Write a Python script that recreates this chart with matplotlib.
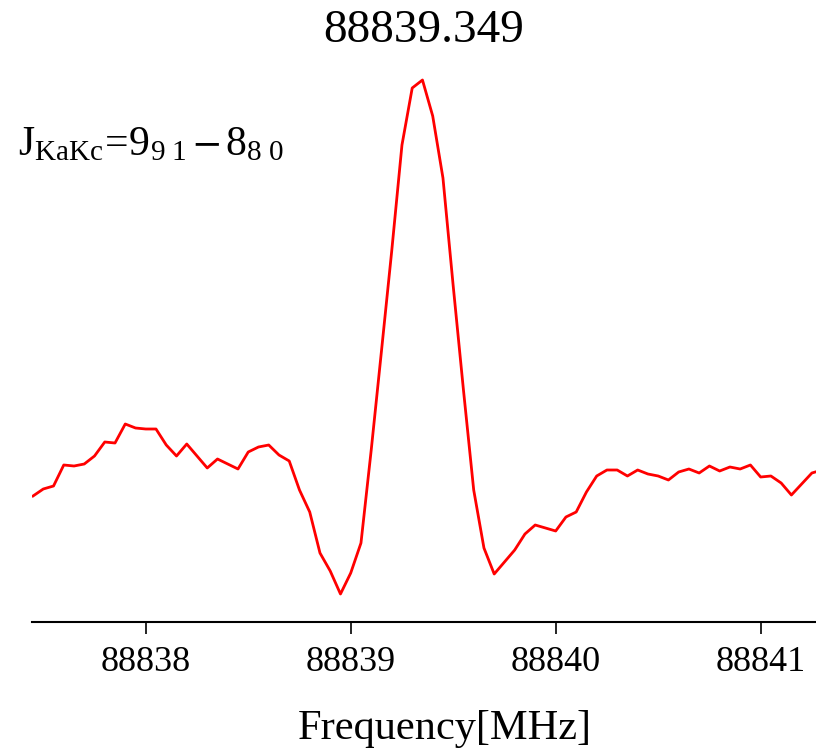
import numpy as np
import matplotlib
matplotlib.use("Agg")
from matplotlib import pyplot as plt

plt.rcParams['font.family'] = 'Liberation Serif'
plt.rcParams['mathtext.fontset'] = 'custom'
plt.rcParams['mathtext.rm'] = 'Liberation Serif'
plt.rcParams['mathtext.it'] = 'Liberation Serif:italic'
plt.rcParams['mathtext.sf'] = 'STIXGeneral'

# spectrum channels (MHz) and intensity (arb. units)
chan_start = 88837.45
chan_step = 0.05
intensity = [7.4, 8.1, 8.4, 10.5, 10.4, 10.6, 11.4, 12.8, 12.7, 14.6,
             14.2, 14.1, 14.1, 12.5, 11.4, 12.6, 11.4, 10.2, 11.1, 10.6,
             10.1, 11.8, 12.3, 12.5, 11.5, 10.9, 8.0, 5.8, 1.7, -0.1,
             -2.4, -0.3, 2.7, 12.0, 21.9, 31.9, 42.5, 48.2, 49.0, 45.4,
             39.2, 28.4, 18.0, 8.0, 2.2, -0.4, 0.8, 2.0, 3.6, 4.5,
             4.2, 3.9, 5.3, 5.8, 7.8, 9.4, 10.0, 10.0, 9.4, 10.0,
             9.6, 9.4, 9.0, 9.8, 10.1, 9.7, 10.4, 9.9, 10.3, 10.1,
             10.5, 9.3, 9.4, 8.7, 7.5, 8.6, 9.7, 10.0]
freq = np.round(chan_start + chan_step * np.arange(len(intensity)), 3)

line_freq = "88839.349"
label = r'$\mathrm{J_{KaKc}\!=\!9_{9\ 1}}\,\mathsf{-}\,\mathrm{8_{8\ 0}}$'
xticks = [88838, 88839, 88840, 88841]

fig = plt.figure(figsize=(8.16, 7.5), dpi=100)
ax = fig.add_axes([32/816, 128/750, 784/816, 552/750])
ax.plot(freq, intensity, color='red', lw=2.0)

ax.set_xlim(88837.445, 88841.27)
ax.set_ylim(-5.2, 50)
ax.set_xticks(xticks)
ax.set_xticklabels([str(t) for t in xticks])
ax.tick_params(axis='x', labelsize=26, length=8.5, width=1.2, pad=9)
ax.set_yticks([])
for s in ['left', 'right', 'top']:
    ax.spines[s].set_visible(False)
ax.spines['bottom'].set_linewidth(1.5)

ax.set_title(line_freq, fontsize=34, pad=20)
ax.set_xlabel('Frequency[MHz]', fontsize=30.5, labelpad=22)
ax.xaxis.label.set_x(0.527)
fig.text(18/816, (750-155)/750, label, fontsize=30, va='baseline', ha='left')

plt.savefig('out.png', dpi=100)
